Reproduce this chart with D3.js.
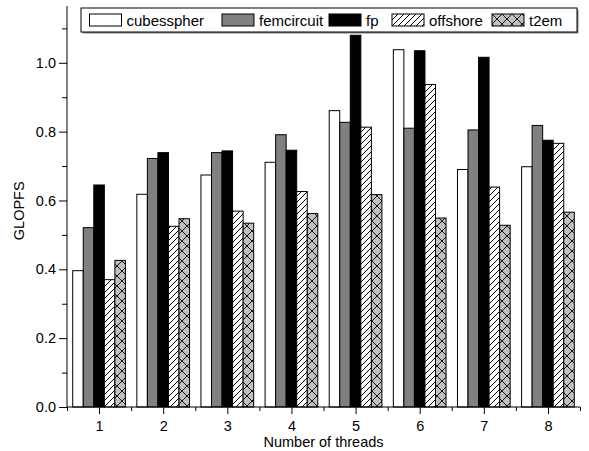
<!DOCTYPE html>
<html lang="en">
<head>
    <meta charset="UTF-8">
    <title>GLOPFS by number of threads</title>
    <script src="https://d3js.org/d3.v7.min.js"></script>
    <style>
        body { margin: 0; background: #fff; }
        text { font-family: "Liberation Sans", Arial, sans-serif; fill: #000; }
    </style>
</head>
<body>
    <svg width="589" height="451" id="chart"></svg>

    <script>
        // data
        const threads = [1, 2, 3, 4, 5, 6, 7, 8];
        const seriesNames = ["cubesspher", "femcircuit", "fp", "offshore", "t2em"];
        const cubesspher = [0.396, 0.618, 0.674, 0.711, 0.861, 1.038, 0.690, 0.698];
        const femcircuit = [0.521, 0.722, 0.739, 0.791, 0.827, 0.810, 0.805, 0.818];
        const fp         = [0.645, 0.739, 0.744, 0.746, 1.080, 1.035, 1.016, 0.775];
        const offshore   = [0.370, 0.525, 0.569, 0.626, 0.813, 0.937, 0.639, 0.766];
        const t2em       = [0.426, 0.547, 0.534, 0.562, 0.617, 0.549, 0.528, 0.566];
        const yMajorTicks = [0, 0.2, 0.4, 0.6, 0.8, 1.0];
        const yMinorTicks = [0.1, 0.3, 0.5, 0.7, 0.9, 1.1];

        const allSeries = [cubesspher, femcircuit, fp, offshore, t2em];
        const fills = ["#ffffff", "#808080", "#000000", "url(#hatch)", "url(#cross)"];

        const svg = d3.select("#chart");
        const margin = { top: 6, right: 9, bottom: 44, left: 67 };
        const width = 589 - margin.left - margin.right;
        const height = 451 - margin.top - margin.bottom;

        // patterns
        const defs = svg.append("defs");
        const hatch = defs.append("pattern")
            .attr("id", "hatch")
            .attr("patternUnits", "userSpaceOnUse")
            .attr("width", 6).attr("height", 6);
        hatch.append("rect").attr("width", 6).attr("height", 6).attr("fill", "#fff");
        hatch.append("path")
            .attr("d", "M0,6 L6,0 M-1.5,1.5 L1.5,-1.5 M4.5,7.5 L7.5,4.5")
            .attr("stroke", "#000").attr("stroke-width", 1);

        const cross = defs.append("pattern")
            .attr("id", "cross")
            .attr("patternUnits", "userSpaceOnUse")
            .attr("width", 10).attr("height", 10);
        cross.append("rect").attr("width", 10).attr("height", 10).attr("fill", "#c0c0c0");
        cross.append("path")
            .attr("d", "M0,0 L10,10 M0,10 L10,0")
            .attr("stroke", "#000").attr("stroke-width", 0.9);

        const g = svg.append("g").attr("transform", `translate(${margin.left},${margin.top})`);

        const x = d3.scaleLinear().domain([0.5, 8.5]).range([0, width]);
        const y = d3.scaleLinear().domain([0, 1.165]).range([height, 0]);

        // bars inside each group
        const groupWidth = x(0.822) - x(0);
        const inner = d3.scaleBand().domain(seriesNames).range([-groupWidth / 2, groupWidth / 2]);

        seriesNames.forEach((name, j) => {
            g.append("g")
                .attr("class", "series-" + name)
                .selectAll("rect")
                .data(allSeries[j].map((v, i) => ({ t: threads[i], v })))
                .join("rect")
                .attr("x", d => x(d.t) + inner(name))
                .attr("y", d => y(d.v))
                .attr("width", inner.bandwidth())
                .attr("height", d => y(0) - y(d.v))
                .attr("fill", fills[j])
                .attr("stroke", "#000")
                .attr("stroke-width", 1);
        });

        // y axis
        const yAxis = g.append("g")
            .call(d3.axisLeft(y).tickValues(yMajorTicks).tickFormat(d3.format(".1f")).tickSize(8).tickPadding(3));
        yAxis.selectAll("text").style("font-size", "14.5px");
        yAxis.select(".domain").attr("d", `M0,0V${height}`);
        g.append("g")
            .call(d3.axisLeft(y).tickValues(yMinorTicks).tickFormat("").tickSize(5))
            .select(".domain").remove();

        // x axis
        const xAxis = g.append("g")
            .attr("transform", `translate(0,${height})`)
            .call(d3.axisBottom(x).tickValues(threads).tickFormat(d3.format("d")).tickSize(7).tickPadding(7));
        xAxis.selectAll("text").style("font-size", "14.5px");
        xAxis.select(".domain").attr("d", `M0,0H${width}`);
        g.append("g")
            .attr("transform", `translate(0,${height})`)
            .call(d3.axisBottom(x).tickValues(threads.map(t => t - 0.5).concat([8.5])).tickFormat("").tickSize(4))
            .select(".domain").remove();

        // axis titles
        g.append("text")
            .attr("x", x(4.5) + 0)
            .attr("y", height + 40)
            .attr("text-anchor", "middle")
            .style("font-size", "14.5px")
            .text("Number of threads");

        g.append("text")
            .attr("transform", `translate(${-43},${y(0.57)}) rotate(-90)`)
            .attr("text-anchor", "middle")
            .style("font-size", "14.5px")
            .text("GLOPFS");

        // legend
        const legend = svg.append("g").attr("transform", "translate(81,8)");
        legend.append("rect").attr("x", 1.5).attr("y", 1.5).attr("width", 496).attr("height", 24).attr("fill", "#808080");
        legend.append("rect").attr("width", 496).attr("height", 24).attr("fill", "#fff").attr("stroke", "#000").attr("stroke-width", 1);
        const legendX = [8.5, 141, 248, 311, 411];
        seriesNames.forEach((name, j) => {
            const item = legend.append("g").attr("transform", `translate(${legendX[j]},6)`);
            item.append("rect").attr("width", 32).attr("height", 12)
                .attr("fill", fills[j]).attr("stroke", "#000").attr("stroke-width", 1);
            item.append("text").attr("x", 37).attr("y", 11.5)
                .style("font-size", "15px").text(name);
        });
    </script>
</body>
</html>
